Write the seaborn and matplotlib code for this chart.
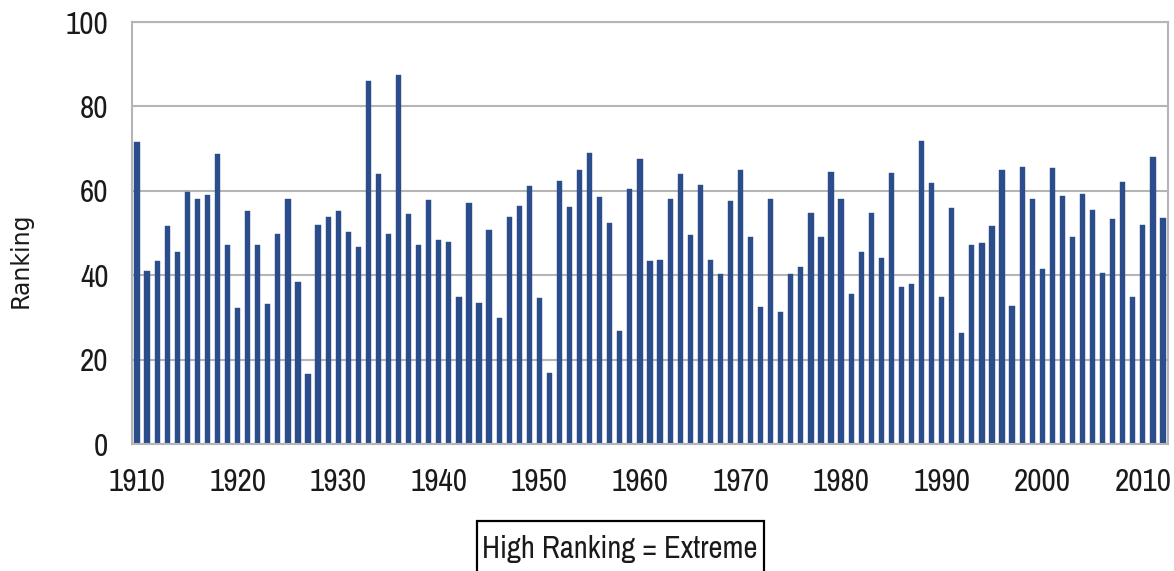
import numpy as np
import pandas as pd
import seaborn as sns
import matplotlib
matplotlib.use('Agg')
from matplotlib import pyplot as plt
from matplotlib import font_manager
from matplotlib.patches import Rectangle

# yillar ve siralama degerleri
years = list(range(1910, 2013))
ranking = [
    71.5, 40.9, 43.3, 51.6, 45.4, 59.7, 58.1, 59.1, 68.8, 47.2,   # 1910-1919
    32.2, 55.1, 47.2, 33.1, 49.8, 58.1, 38.5, 16.6, 52.0, 53.7,   # 1920-1929
    55.1, 50.2, 46.7, 86.0, 64.0, 49.8, 87.4, 54.6, 47.2, 57.8,   # 1930-1939
    48.4, 47.8, 34.8, 57.0, 33.5, 50.8, 29.8, 53.8, 56.3, 61.1,   # 1940-1949
    34.6, 16.8, 62.3, 56.1, 65.0, 69.0, 58.5, 52.4, 26.7, 60.5,   # 1950-1959
    67.6, 43.3, 43.7, 58.1, 64.0, 49.6, 61.3, 43.7, 40.3, 57.5,   # 1960-1969
    64.9, 49.0, 32.4, 58.1, 31.3, 40.3, 41.9, 54.7, 49.0, 64.5,   # 1970-1979
    58.1, 35.5, 45.6, 54.7, 44.1, 64.2, 37.3, 37.9, 71.8, 61.9,   # 1980-1989
    34.8, 55.9, 26.4, 47.2, 47.6, 51.7, 65.0, 32.6, 65.7, 58.1,   # 1990-1999
    41.5, 65.3, 58.7, 49.0, 59.3, 55.5, 40.5, 53.3, 62.1, 34.8,   # 2000-2009
    52.0, 68.0, 53.6,                                             # 2010-2012
]
label_years = list(range(1910, 2011, 10))
y_ticks = [0, 20, 40, 60, 80, 100]

df = pd.DataFrame({"Year": years, "Ranking": ranking})

sns.set_style("white")

# dar (narrow/condensed) bir font varsa onu kullan, yoksa Liberation Sans
narrow_name = None
for f in font_manager.fontManager.ttflist:
    if ("Narrow" in f.name or "Condensed" in f.name) and "Mono" not in f.name:
        narrow_name = f.name
        break
if narrow_name:
    tick_font = [narrow_name, 'DejaVu Sans']
    tick_size, box_size = 22.5, 22
else:
    tick_font = ['Liberation Sans', 'DejaVu Sans']
    tick_size, box_size = 18, 18
plt.rcParams['font.family'] = tick_font

grid_col = "#b5b5b5"
bar_col = "#2c4d8b"
text_col = "#1a1a1a"

fig = plt.figure(figsize=(11.74, 5.71), dpi=100)
ax = fig.add_axes([132 / 1174, 1 - 444 / 571, 1036 / 1174, 422 / 571])

sns.barplot(data=df, x="Year", y="Ranking", native_scale=True, width=0.52,
            color=bar_col, saturation=1, edgecolor=bar_col, linewidth=0.3, ax=ax)

ax.set_xlim(1909.5, 2012.5)
ax.set_ylim(0, 100)

# y ekseni
ax.set_yticks(y_ticks)
ax.set_yticklabels([str(v) for v in y_ticks], fontsize=tick_size, color=text_col)
ax.yaxis.grid(True, color=grid_col, linewidth=1.5)
ax.set_axisbelow(True)
ax.tick_params(axis="y", length=10, width=1.5, color=grid_col, pad=7)

# x ekseni: etiketler cubuk ortasinda, cizgiler kategori sinirinda
ax.set_xticks(label_years)
ax.set_xticklabels([str(v) for v in label_years], fontsize=tick_size, color=text_col)
ax.set_xticks([y - 0.5 for y in label_years], minor=True)
ax.tick_params(axis="x", which="major", length=0, pad=17)
ax.tick_params(axis="x", which="minor", length=11, width=1.5, color=grid_col)

for s in ax.spines.values():
    s.set_color(grid_col)
    s.set_linewidth(1.5)

ax.set_xlabel("")
ax.set_ylabel("Ranking", fontsize=17, family=['DejaVu Sans'], color=text_col)
ax.yaxis.set_label_coords(-0.0956, 0.436)

# alt kutu
fig.patches.append(Rectangle((477 / 1174, -0.05), 287 / 1174, (571 - 521) / 571 + 0.05,
                             transform=fig.transFigure, fill=False, edgecolor="black",
                             linewidth=1.6))
fig.text(620 / 1174, 1 - 549 / 571, "High Ranking = Extreme", ha="center", va="center",
         fontsize=box_size, color=text_col)

fig.savefig("out.png", dpi=100)
